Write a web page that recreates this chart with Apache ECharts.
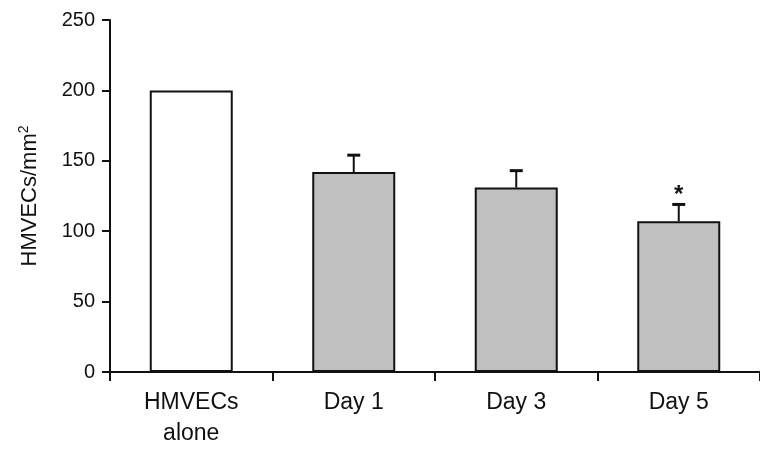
<!DOCTYPE html>
<html>
<head>
<meta charset="utf-8">
<script src="https://cdn.jsdelivr.net/npm/echarts@6/dist/echarts.min.js"></script>
<style>html,body{margin:0;padding:0;background:#fff;}#c{width:760px;height:450px;}</style>
</head>
<body>
<div id="c"></div>
<script>
const categories = ['HMVECs\nalone', 'Day 1', 'Day 3', 'Day 5'];
const means = [200, 142, 131, 107];
const errors = [null, 12, 12, 12];
const marks = ['', '', '', '*'];
const yTicks = [0, 50, 100, 150, 200, 250];

const FONT = '"Liberation Sans", Arial, Helvetica, sans-serif';
const TXT = '#111';
const chart = echarts.init(document.getElementById('c'), null, {renderer: 'canvas'});

const errData = means.map((m, i) => [i, m, errors[i]]);

chart.setOption({
  animation: false,
  backgroundColor: '#fff',
  grid: {left: 110, top: 20, width: 656, height: 352, containLabel: false},
  xAxis: {
    type: 'category',
    data: categories,
    boundaryGap: true,
    axisLine: {lineStyle: {color: '#111', width: 2}},
    axisTick: {show: true, length: 9, inside: false, lineStyle: {color: '#111', width: 2}},
    axisLabel: {color: TXT, fontFamily: FONT, fontSize: 23, lineHeight: 31, margin: 15, interval: 0}
  },
  yAxis: {
    type: 'value',
    min: yTicks[0],
    max: yTicks[yTicks.length - 1],
    interval: yTicks[1] - yTicks[0],
    name: 'HMVECs/mm{sup|2}',
    nameLocation: 'middle',
    nameRotate: 90,
    nameGap: 67,
    nameTextStyle: {
      color: TXT, fontFamily: FONT, fontSize: 22,
      rich: {sup: {fontSize: 14, verticalAlign: 'top', padding: [0, 0, 12, 0], color: TXT, fontFamily: FONT}}
    },
    splitLine: {show: false},
    axisLine: {show: true, lineStyle: {color: '#111', width: 2}},
    axisTick: {show: true, length: 8, lineStyle: {color: '#111', width: 2}},
    axisLabel: {color: TXT, fontFamily: FONT, fontSize: 20, margin: 15}
  },
  series: [
    {
      type: 'bar',
      data: means,
      barWidth: 83,
      itemStyle: {
        color: p => p.dataIndex === 0 ? '#ffffff' : '#c0c0c0',
        borderColor: '#111',
        borderWidth: 2
      },
      z: 2
    },
    {
      type: 'custom',
      data: errData,
      z: 3,
      renderItem: function (params, api) {
        const i = api.value(0);
        const m = api.value(1);
        const e = api.value(2);
        const mark = marks[params.dataIndex];
        if (e === null || isNaN(e)) return null;
        const base = api.coord([i, m]);
        const top = api.coord([i, m + e]);
        const hw = 6.5;
        const children = [
          {type: 'line', shape: {x1: top[0], y1: base[1], x2: top[0], y2: top[1]}, style: {stroke: '#111', lineWidth: 2}},
          {type: 'line', shape: {x1: top[0] - hw, y1: top[1], x2: top[0] + hw, y2: top[1]}, style: {stroke: '#111', lineWidth: 3}}
        ];
        if (mark) {
          children.push({
            type: 'text',
            style: {text: mark, x: top[0], y: top[1] - 21, align: 'center', verticalAlign: 'top',
                    fill: TXT, font: 'bold 24px ' + FONT}
          });
        }
        return {type: 'group', children: children};
      }
    }
  ]
});
</script>
</body>
</html>
